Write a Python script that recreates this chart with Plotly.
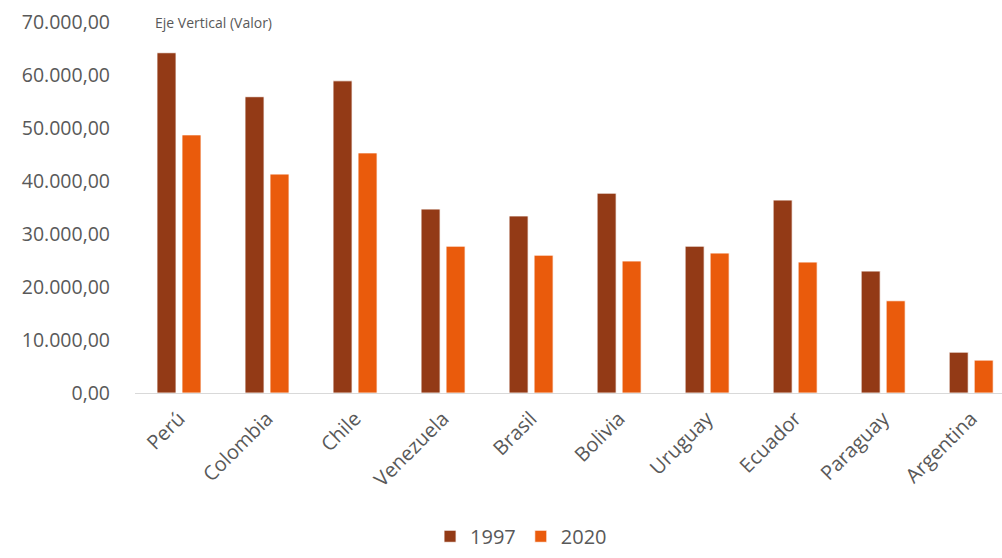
import plotly.graph_objects as go

countries = ["Perú", "Colombia", "Chile", "Venezuela", "Brasil", "Bolivia",
             "Uruguay", "Ecuador", "Paraguay", "Argentina"]
values_1997 = [64200, 55900, 58900, 34700, 33400, 37700, 27700, 36400, 23000, 7700]
values_2020 = [48700, 41300, 45300, 27700, 26000, 24900, 26400, 24700, 17400, 6200]
y_ticks = [0, 10000, 20000, 30000, 40000, 50000, 60000, 70000]

grey = "#595959"
font_family = "Open Sans"

fig = go.Figure()
fig.add_trace(go.Bar(x=countries, y=values_1997, name="1997",
                     marker=dict(color="#933A16", line=dict(color="white", width=0.8))))
fig.add_trace(go.Bar(x=countries, y=values_2020, name="2020",
                     marker=dict(color="#EA5B0C", line=dict(color="white", width=0.8))))

fig.update_layout(
    width=1002, height=558,
    margin=dict(l=135, r=0, t=22, b=165, autoexpand=False),
    paper_bgcolor="white", plot_bgcolor="white",
    separators=",.",
    barmode="group", bargap=0.432, bargroupgap=0.24,
    font=dict(family=font_family, color=grey, size=20),
    showlegend=True,
    legend=dict(orientation="h", xref="container", yref="container",
                x=0.52, xanchor="center", y=0.004, yanchor="bottom",
                font=dict(size=20, color=grey), itemwidth=30, traceorder="normal"),
    xaxis=dict(type="category", range=[-0.5, 9.35], tickangle=-45, automargin=False,
               showline=True, linecolor="#D9D9D9", linewidth=1, ticklabelstandoff=5,
               showgrid=False, ticks="", tickfont=dict(size=20, color=grey)),
    yaxis=dict(range=[0, 70000], tickvals=y_ticks, tickformat=",.2f", automargin=False,
               showgrid=False, zeroline=False, showline=False, ticks="",
               ticklabelstandoff=24, tickfont=dict(size=19.5, color=grey)),
    annotations=[dict(text="Eje Vertical (Valor)", xref="paper", yref="paper",
                      x=0.0208, y=1.0, xanchor="left", yanchor="middle",
                      showarrow=False, font=dict(size=14, color=grey, family=font_family))],
)

fig.write_html("out.html")
